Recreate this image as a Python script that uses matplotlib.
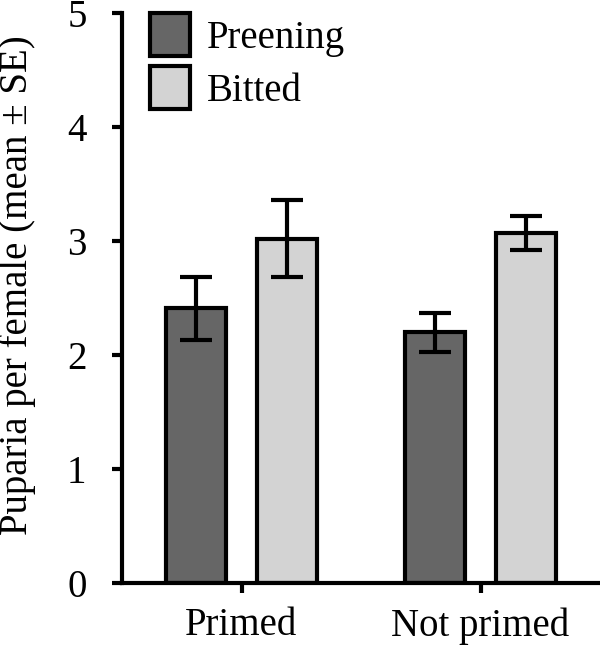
import matplotlib
matplotlib.use("Agg")
import matplotlib.pyplot as plt
import numpy as np
from matplotlib.patches import Patch

categories = ["Primed", "Not primed"]
series = ["Preening", "Bitted"]
preening_mean = [2.41, 2.20]
preening_se = [0.275, 0.17]
bitted_mean = [3.02, 3.07]
bitted_se = [0.34, 0.15]
colors = ["#666666", "#d3d3d3"]

plt.rcParams['font.family'] = ['Liberation Serif', 'DejaVu Serif']

fig = plt.figure(figsize=(6.0, 6.45), dpi=100)
ax = fig.add_axes([122/600, 62/645, 1 - 122/600, 570/645])

x = np.arange(len(categories))
w = 0.25
off = 0.19
lw = 3.0
err_kw = dict(elinewidth=3.0, capthick=3.0, ecolor="black")
ax.bar(x - off, preening_mean, w, yerr=preening_se, color=colors[0], edgecolor="black",
       linewidth=lw, capsize=11.5, error_kw=err_kw, zorder=2)
ax.bar(x + off, bitted_mean, w, yerr=bitted_se, color=colors[1], edgecolor="black",
       linewidth=lw, capsize=11.5, error_kw=err_kw, zorder=2)

ax.set_xlim(-0.5, 1.5)
ax.set_ylim(0, 5)
ax.set_yticks([0, 1, 2, 3, 4, 5])
ax.set_xticks(x)
ax.set_xticklabels(categories)
ax.tick_params(axis='both', labelsize=28, width=3, length=7.5, direction='out')
ax.tick_params(axis='x', pad=10)
ax.tick_params(axis='y', pad=18)
for s in ['top', 'right']:
    ax.spines[s].set_visible(False)
for s in ['left', 'bottom']:
    ax.spines[s].set_linewidth(3)
ax.set_ylabel("Puparia per female (mean ± SE)", fontsize=28)
ax.yaxis.set_label_coords(-0.179, 0.522)

handles = [Patch(facecolor=colors[0], edgecolor="black", linewidth=3),
           Patch(facecolor=colors[1], edgecolor="black", linewidth=3)]
ax.legend(handles, series, loc="upper left", bbox_to_anchor=(0.0586, 1.0), frameon=False,
          fontsize=28, handlelength=1.03, handleheight=1.33, handletextpad=0.42,
          labelspacing=0.25, borderpad=0, borderaxespad=0)

fig.savefig("out.png", dpi=100)
